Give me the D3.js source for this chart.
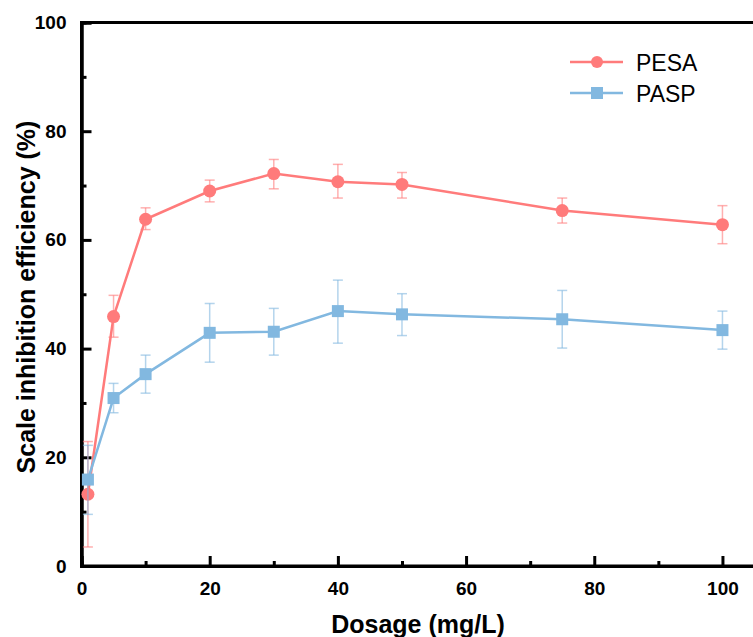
<!DOCTYPE html>
<html><head><meta charset="utf-8">
<script src="https://cdn.jsdelivr.net/npm/d3@7"></script>
<style>body{margin:0;background:#fff}svg{display:block}</style>
</head><body>
<script>
const dosage = [1, 5, 10, 20, 30, 40, 50, 75, 100];
const pesa = [13.2, 45.9, 63.8, 69.0, 72.2, 70.7, 70.2, 65.4, 62.8];
const pesaErrLow = [3.5, 42.1, 61.9, 67.0, 69.4, 67.7, 67.7, 63.1, 59.3];
const pesaErrHigh = [22.9, 49.8, 65.9, 71.0, 74.8, 73.9, 72.4, 67.7, 66.3];
const pasp = [15.9, 30.9, 35.3, 42.9, 43.1, 46.9, 46.3, 45.4, 43.4];
const paspErrLow = [9.5, 28.2, 31.8, 37.5, 38.8, 41.0, 42.4, 40.1, 39.9];
const paspErrHigh = [22.2, 33.6, 38.8, 48.3, 47.4, 52.6, 50.1, 50.7, 46.9];
const xTicks = [0, 20, 40, 60, 80, 100];
const xMinor = [10, 30, 50, 70, 90];
const yTicks = [0, 20, 40, 60, 80, 100];
const yMinor = [10, 30, 50, 70, 90];

const W = 753, H = 637;
const svg = d3.select("body").append("svg").attr("width", W).attr("height", H);
const x = d3.scaleLinear().domain([0, 105]).range([81.5, 754.5]);
const y = d3.scaleLinear().domain([0, 100]).range([566, 22.5]);
const font = "'Liberation Sans', Arial, sans-serif";

const series = [
  {name: "PESA", vals: pesa, lo: pesaErrLow, hi: pesaErrHigh, color: "#FF7B7B", shape: "circle"},
  {name: "PASP", vals: pasp, lo: paspErrLow, hi: paspErrHigh, color: "#82B8E0", shape: "square"}
];

// frame
svg.append("rect").attr("x", x(0)).attr("y", y(100)).attr("width", x(105) - x(0)).attr("height", y(0) - y(100))
  .attr("fill", "none").attr("stroke", "#000").attr("stroke-width", 3);

// axes
const gx = svg.append("g").attr("transform", `translate(0,${y(0)})`)
  .call(d3.axisBottom(x).tickValues(xTicks).tickSize(-10).tickPadding(16).tickFormat(d3.format("d")));
const gxm = svg.append("g").attr("transform", `translate(0,${y(0)})`)
  .call(d3.axisBottom(x).tickValues(xMinor).tickSize(-5).tickFormat(""));
const gy = svg.append("g").attr("transform", `translate(${x(0)},0)`)
  .call(d3.axisLeft(y).tickValues(yTicks).tickSize(-10).tickPadding(15).tickFormat(d3.format("d")));
const gym = svg.append("g").attr("transform", `translate(${x(0)},0)`)
  .call(d3.axisLeft(y).tickValues(yMinor).tickSize(-5).tickFormat(""));
[gx, gxm, gy, gym].forEach(g => {
  g.select(".domain").attr("stroke", "#000").attr("stroke-width", 3);
  g.selectAll(".tick line").attr("stroke", "#000").attr("stroke-width", 3);
  g.selectAll(".tick text").attr("font-family", font).attr("font-weight", "bold").attr("font-size", 19).attr("fill", "#000");
});

// titles
svg.append("text").attr("x", x(52.5)).attr("y", 633).attr("text-anchor", "middle")
  .attr("font-family", font).attr("font-weight", "bold").attr("font-size", 25).text("Dosage (mg/L)");
svg.append("text").attr("transform", "translate(35,297) rotate(-90)").attr("text-anchor", "middle")
  .attr("font-family", font).attr("font-weight", "bold").attr("font-size", 25).text("Scale inhibition efficiency (%)");

// series
const line = d3.line();
series.forEach(s => {
  const g = svg.append("g");
  const pts = dosage.map((d, i) => [x(d), y(s.vals[i])]);
  // error bars
  dosage.forEach((d, i) => {
    const cx = x(d), y1 = y(s.lo[i]), y2 = y(s.hi[i]);
    g.append("line").attr("x1", cx).attr("x2", cx).attr("y1", y1).attr("y2", y2)
      .attr("stroke", s.color).attr("stroke-opacity", 0.6).attr("stroke-width", 1.5);
    [y1, y2].forEach(yy => g.append("line").attr("x1", cx - 5).attr("x2", cx + 5).attr("y1", yy).attr("y2", yy)
      .attr("stroke", s.color).attr("stroke-opacity", 0.6).attr("stroke-width", 1.5));
  });
  g.append("path").attr("d", line(pts)).attr("fill", "none").attr("stroke", s.color).attr("stroke-width", 2.5);
  pts.forEach(p => {
    if (s.shape === "circle") g.append("circle").attr("cx", p[0]).attr("cy", p[1]).attr("r", 6.5).attr("fill", s.color);
    else g.append("rect").attr("x", p[0] - 6).attr("y", p[1] - 6).attr("width", 12).attr("height", 12).attr("fill", s.color);
  });
});

// legend
const legY = [62, 93];
series.forEach((s, i) => {
  const g = svg.append("g");
  g.append("line").attr("x1", 570).attr("x2", 623).attr("y1", legY[i]).attr("y2", legY[i])
    .attr("stroke", s.color).attr("stroke-width", 2.5);
  if (s.shape === "circle") g.append("circle").attr("cx", 597).attr("cy", legY[i]).attr("r", 6).attr("fill", s.color);
  else g.append("rect").attr("x", 591).attr("y", legY[i] - 6).attr("width", 12).attr("height", 12).attr("fill", s.color);
  g.append("text").attr("x", 636).attr("y", legY[i] + 8.5).attr("font-family", font).attr("font-size", 23)
    .attr("fill", "#000").text(s.name);
});
</script>
</body></html>
